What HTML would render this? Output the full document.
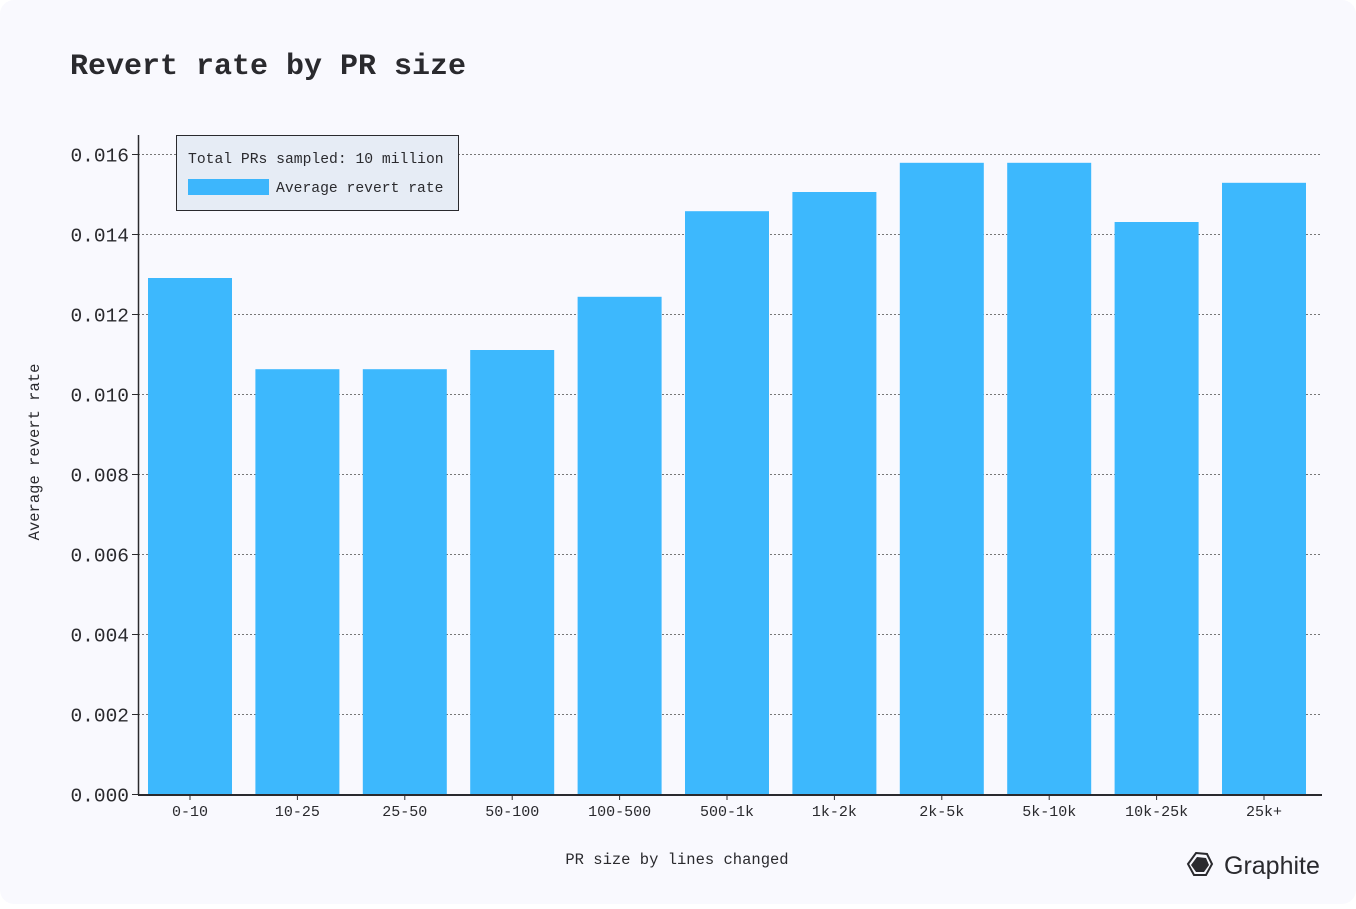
<!DOCTYPE html>
<html><head><meta charset="utf-8"><style>
html,body{margin:0;padding:0;background:#ffffff;}
body{width:1356px;height:904px;overflow:hidden;}
#card{position:absolute;left:0;top:0;width:1356px;height:904px;background:#f9f9fe;border-radius:14px;}
svg text{font-family:"Liberation Mono",monospace;fill:#2a2a2e;}
</style></head><body>
<div id="card">
<svg id="chart" width="1356" height="904">
<text x="70" y="74" font-size="30" font-weight="bold">Revert rate by PR size</text>
<g id="grid"></g>
<g id="bars"></g>
<g id="axes"></g>
<text x="677" y="864" font-size="15.5" text-anchor="middle">PR size by lines changed</text>
<text transform="translate(39,452) rotate(-90)" font-size="15.5" text-anchor="middle">Average revert rate</text>
<g>
<rect x="176.5" y="135.5" width="282" height="75" fill="#e6ecf5" stroke="#2a2a2e" stroke-width="1"/>
<text x="188" y="163" font-size="14.7">Total PRs sampled: 10 million</text>
<rect x="188" y="179" width="81" height="16" fill="#3db6fc"/>
<text x="276" y="192" font-size="14.7">Average revert rate</text>
</g>
<g>
<polygon points="1196,853 1207,854 1212,864 1206,875 1194,875 1188,864" fill="none" stroke="#2a2a2e" stroke-width="2"/>
<polygon points="1197,857 1206,858 1209,865 1204,872 1196,872 1191,865" fill="#2a2a2e"/>
<text x="1224" y="874" font-size="25" style="font-family:'Liberation Sans',sans-serif">Graphite</text>
</g>
</svg>
</div>
<script>
const categories=["0-10","10-25","25-50","50-100","100-500","500-1k","1k-2k","2k-5k","5k-10k","10k-25k","25k+"];
const revertRates=[0.0129,0.01062,0.01062,0.0111,0.01243,0.01457,0.01505,0.01578,0.01578,0.0143,0.01528];
const yTicks=[0,0.002,0.004,0.006,0.008,0.010,0.012,0.014,0.016];
const NS="http://www.w3.org/2000/svg";
const y0=794,yPx=40000;
function y(v){return y0-v*yPx;}
function xc(i){return 190+i*107.4;}
const barW=84;
const grid=document.getElementById('grid'),bars=document.getElementById('bars'),axes=document.getElementById('axes');
function mk(tag,attrs,parent){const e=document.createElementNS(NS,tag);for(const k in attrs)e.setAttribute(k,attrs[k]);parent.appendChild(e);return e;}
yTicks.forEach(t=>{
  const yy=Math.round(y(t))+0.5;
  if(t>0){const l=mk('line',{x1:138,x2:1322,y1:yy,y2:yy,stroke:'#777',"stroke-width":1,"stroke-dasharray":"2,2"},grid);
  
  }
  const tk=mk('line',{x1:132,x2:138,y1:yy,y2:yy,stroke:'#2a2a2e'},axes);
  
  
  const tx=mk('text',{x:129,y:yy+7,"font-size":19.5,"text-anchor":"end"},axes);
  tx.textContent=t.toFixed(3);
  
  
});
categories.forEach((c,i)=>{
  const r=mk('rect',{x:xc(i)-barW/2,y:y(revertRates[i]),width:barW,height:y0-y(revertRates[i]),fill:'#3db8fd'},bars);
  
  
  const tk=mk('line',{x1:xc(i),x2:xc(i),y1:795,y2:800,stroke:'#2a2a2e'},axes);
  
  
  const tx=mk('text',{x:xc(i),y:816,"font-size":15,"text-anchor":"middle"},axes);
  tx.textContent=c;
  
  
});
const ya=mk('line',{x1:138.5,x2:138.5,y1:135,y2:795,stroke:'#2a2a2e',"stroke-width":1.5},axes);


const xa=mk('line',{x1:138,x2:1322,y1:795,y2:795,stroke:'#2a2a2e',"stroke-width":2},axes);


</script>
</body></html>
